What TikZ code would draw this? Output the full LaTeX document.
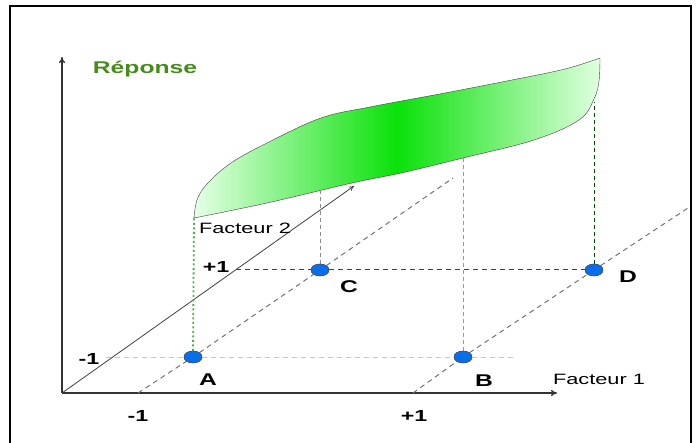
\documentclass[tikz,border=0pt]{standalone}
\usepackage{fontspec}
\setmainfont[FakeStretch=1.45]{Liberation Sans}
\usepackage{xcolor}
\usetikzlibrary{arrows.meta,shapes.geometric}
\definecolor{ptblue}{RGB}{10,110,235}
\definecolor{repgreen}{RGB}{70,140,25}
\definecolor{srfgreen}{RGB}{10,225,10}

\begin{document}
\begin{tikzpicture}[x=1pt,y=1pt,
    axis/.style={line width=1.3pt, black!80, -{To[length=6pt,width=6pt]}},
    grid/.style={line width=1pt, black!55, dash pattern=on 5pt off 4pt},
    pt/.style={ellipse, draw=black!70, fill=ptblue, minimum width=18pt, minimum height=12pt, inner sep=0pt},
    lbl/.style={font=\fontsize{17}{20}\selectfont\bfseries},
    txt/.style={font=\fontsize{15}{18}\selectfont}]
      \useasboundingbox (0,0) rectangle (698,443);

      % Frame
      \draw[line width=2.5pt] (10,0) -- (10,437) -- (691,437) -- (691,0);

      % Axes
      \coordinate (O) at (62,50);
      \coordinate (yend) at (62,386);
      \coordinate (xend) at (557,50);
      \coordinate (zend) at (354,257);
      \draw[axis] (O) -- (yend);
      \draw[axis] (O) -- (xend);
      \draw[line width=0.8pt, black!75, -{To[length=5pt,width=5pt]}] (O) -- (zend);

      % Design points
      \node[pt] (A) at (193,86) {};
      \node[pt] (B) at (463,86) {};
      \node[pt] (C) at (320,173) {};
      \node[pt] (D) at (594,173) {};

      % Response surface
      \coordinate (S1) at (194,225);
      \coordinate (S2) at (600,385);
      \draw[thin, black!75, left color=green!10, right color=green!12, middle color=srfgreen]
        (S1) -- plot[smooth, tension=0.6] coordinates {(194,225) (197,243) (207,259) (231,280) (267,300) (321,325) (370,336) (445,350) (512,363) (565,374) (600,385)}
        -- plot[smooth, tension=0.6] coordinates {(600,385) (599,362) (594,344) (579,323) (534,303) (463,285) (401,270) (352,260) (267,240) (194,225)}
        -- cycle;

      % Grid lines of the domain
      \coordinate (m1) at (138,50);
      \coordinate (p1) at (413,50);
      \coordinate (c1) at (453,265);
      \coordinate (d1) at (688,235);
      \coordinate (lowL) at (106,86);
      \coordinate (lowR) at (515,86);
      \coordinate (upL) at (236,173);
      \draw[grid] (m1) -- (A) -- (C) -- (c1);
      \draw[grid] (p1) -- (B) -- (D) -- (d1);
      \draw[line width=0.8pt, black!22, dash pattern=on 5pt off 4pt] (lowL) -- (A) -- (B) -- (lowR);
      \draw[line width=1pt, black!75, dash pattern=on 5pt off 4pt] (upL) -- (C) -- (D);

      % Projections onto the surface
      \coordinate (sC) at (320,253);
      \coordinate (sB) at (463,285);
      \coordinate (sD) at (594,341);
      \draw[line width=1.8pt, green!55!black!70, dash pattern=on 2pt off 2.5pt] (A) -- (S1);
      \draw[line width=1pt, green!45!black!55, dash pattern=on 4pt off 3pt] (B) -- (sB);
      \draw[line width=1pt, black!45, dash pattern=on 4pt off 3pt] (C) -- (sC);
      \draw[line width=1pt, black!50!green!60!black, dash pattern=on 4pt off 3pt] (D) -- (sD);

      % redraw points on top
      \node[pt] at (A) {};
      \node[pt] at (B) {};
      \node[pt] at (C) {};
      \node[pt] at (D) {};

      % Labels
      \node[lbl] (lA) at (208,63) {A};
      \node[lbl] (lB) at (484,62) {B};
      \node[lbl] (lC) at (349,156) {C};
      \node[lbl] (lD) at (628,166) {D};
      \node[lbl, font=\fontsize{16}{19}\selectfont\bfseries] (mx) at (138,27) {-1};
      \node[lbl, font=\fontsize{16}{19}\selectfont\bfseries] (px) at (414,27) {+1};
      \node[lbl, font=\fontsize{16}{19}\selectfont\bfseries] (mz) at (89,84) {-1};
      \node[lbl, font=\fontsize{16}{19}\selectfont\bfseries] (pz) at (216,176) {+1};
      \node[txt] (f1) at (599,64) {Facteur 1};
      \node[txt] (f2) at (245,215) {Facteur 2};
      \node[lbl, repgreen] (rep) at (145,374) {Réponse};
    \end{tikzpicture}
\end{document}
